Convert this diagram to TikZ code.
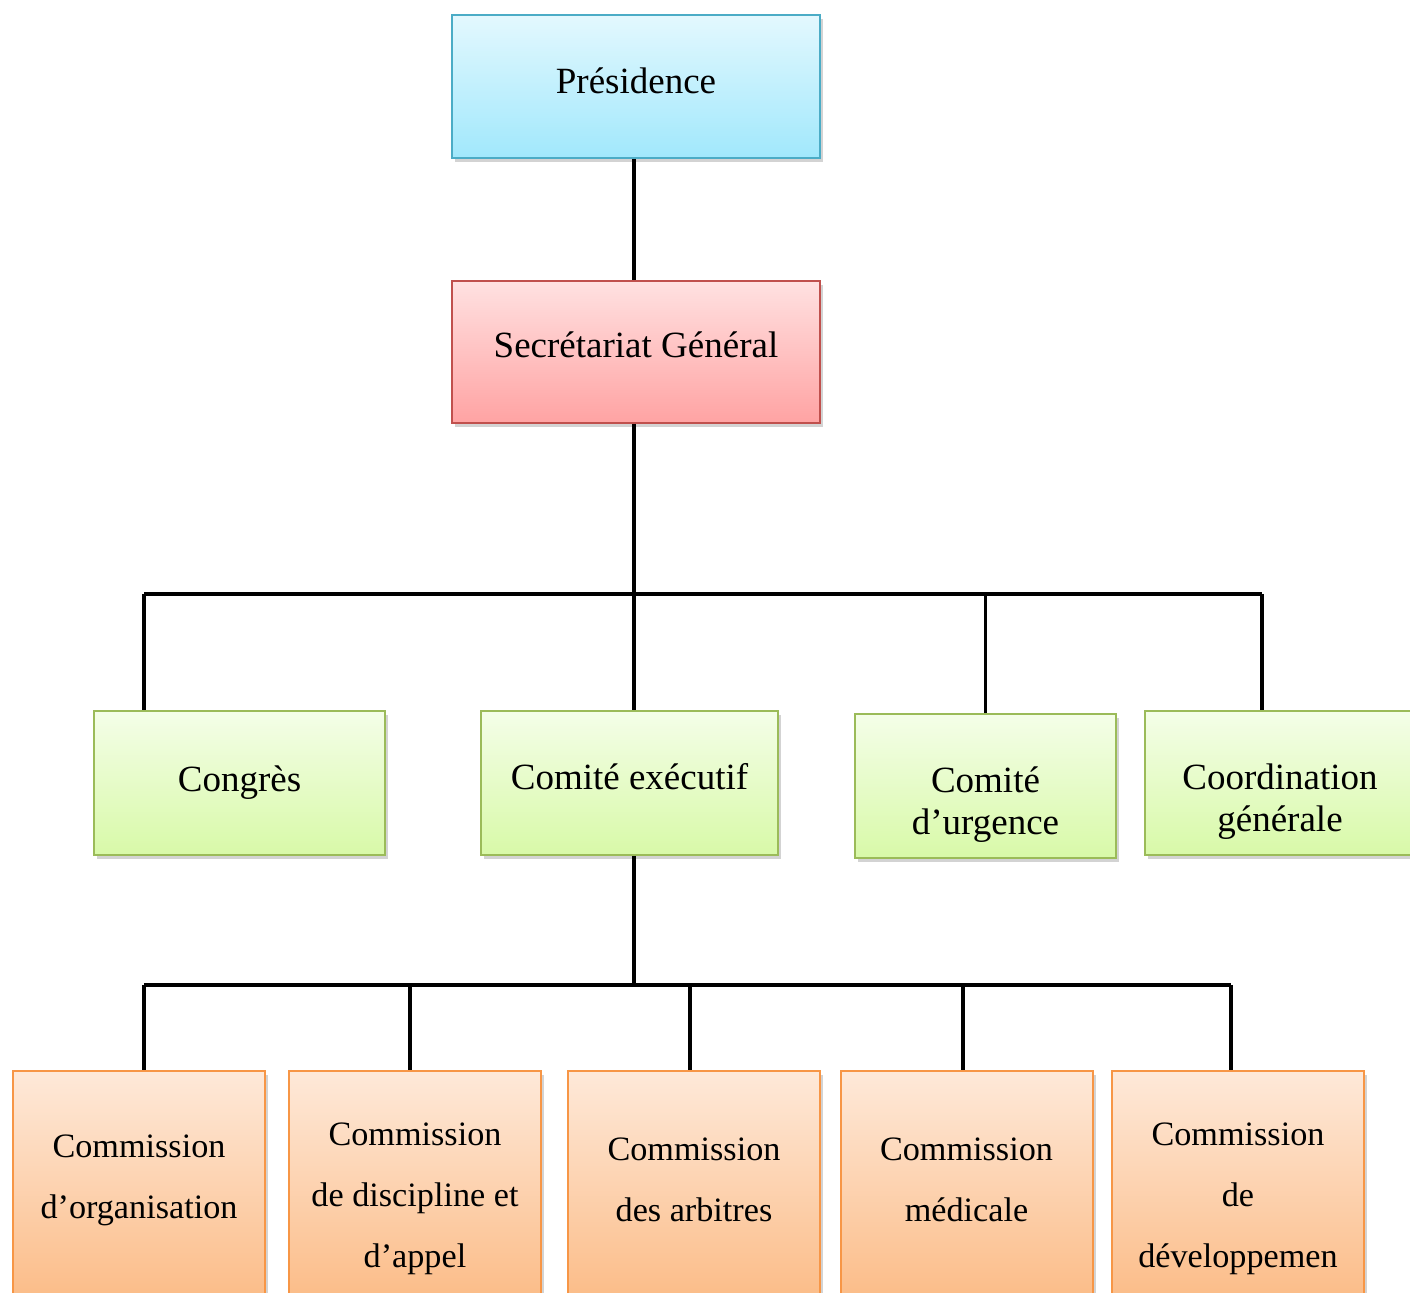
\documentclass[tikz,border=0pt]{standalone}
\usepackage{fontspec}
\setmainfont{Liberation Serif}
\usetikzlibrary{positioning,calc,shadows}
\definecolor{presline}{HTML}{4BACC6}\definecolor{prestop}{HTML}{E3F8FE}\definecolor{presbot}{HTML}{A1E8FC}
\definecolor{sgline}{HTML}{C0504D}\definecolor{sgtop}{HTML}{FFE1E1}\definecolor{sgbot}{HTML}{FFA3A3}
\definecolor{grline}{HTML}{9BBB59}\definecolor{grtop}{HTML}{F4FEE8}\definecolor{grbot}{HTML}{D8F9A8}
\definecolor{orline}{HTML}{F79646}\definecolor{ortop}{HTML}{FEE9D9}\definecolor{orbot}{HTML}{FBB880}
\tikzset{box/.style={draw,line width=1pt,inner sep=0pt,drop shadow={opacity=0.35,shadow xshift=1.5pt,shadow yshift=-2pt}},
  presbox/.style={box,draw=presline,top color=prestop,bottom color=presbot,minimum width=184pt,minimum height=71.5pt},
  sgbox/.style={box,draw=sgline,top color=sgtop,bottom color=sgbot,minimum width=184pt,minimum height=71pt},
  grbox/.style={box,draw=grline,top color=grtop,bottom color=grbot,minimum height=72pt},
  orbox/.style={box,draw=orline,top color=ortop,bottom color=orbot,minimum width=126pt,minimum height=125pt},
  bigtxt/.style={font=\fontsize{18.5}{21}\selectfont,align=center,inner sep=0pt},
  smalltxt/.style={font=\fontsize{17.1}{30.5}\selectfont,align=center,inner sep=0pt},
  link/.style={line width=1.8pt}}
\begin{document}
\begin{tikzpicture}[x=0.5pt,y=-0.5pt]
  \useasboundingbox (0,0) rectangle (1410,1293);
  \clip (0,0) rectangle (1410,1293);

  % top of the chart
  \node (pres) [presbox] at (636,86.5) {};
  \node (sg) [sgbox] at (636,352) {};
  \node (pres-t) [bigtxt] at ($(pres)+(0,-6)$) {Présidence};
  \node (sg-t) [bigtxt] at ($(sg)+(0,-7)$) {Secrétariat Général};

  % second level
  \node (cong) [grbox,minimum width=145.5pt,bigtxt] at (239.5,783) {Congrès};
  \node (exec) [grbox,minimum width=148.5pt] at (629.5,783) {};
  \node (urg) [grbox,minimum width=130.5pt] at (985.5,786.5) {};
  \node (coord) [grbox,minimum width=135pt] at (1280,783) {};
  \node (exec-t) [bigtxt] at ($(exec)+(0,-6)$) {Comité exécutif};
  \node (urg-t) [bigtxt] at ($(urg)+(0,18)$) {Comité\\d’urgence};
  \node (coord-t) [bigtxt] at ($(coord)+(0,19)$) {Coordination\\générale};

  % commissions
  \foreach \n/\x in {org/139, disc/415, arb/694, med/966.5, dev/1238}
    {\node (\n) [orbox] at (\x,1196) {};}
  \foreach \n/\dy/\t in {org/-16/{Commission\\d’organisation}, disc/3/{Commission\\de discipline et\\d’appel},
      arb/-16/{Commission\\des arbitres}, med/-16/{Commission\\médicale}, dev/3/{Commission\\de\\développemen}}
    {\node (\n-t) [smalltxt] at ($(\n)+(0,\dy)$) {\t};}

  % connectors
  \coordinate (hl) at (144,594);
  \coordinate (hr) at (1262,594);
  \coordinate (hx) at (634,594);
  \coordinate (gx) at (634,985);

  \draw[link] (pres.south -| hx) -- (sg.north -| hx);
  \draw[link] (sg.south -| hx) -- (hx);
  \draw[link] (hl) -- (hr);
  \draw[link] (hl) -- (hl |- cong.north);
  \draw[link] (hx) -- (exec.north -| hx);
  \draw[link] (urg.north |- hl) -- (urg.north);
  \draw[link] (hr) -- (hr |- coord.north);

  \draw[link] (exec.south -| gx) -- (gx);
  \foreach \n/\x in {org/144, disc/410, arb/690, med/963, dev/1231}
    {\coordinate (g-\n) at (\x,985);
     \draw[link] (g-\n) -- (g-\n |- \n.north);}
  \draw[link] (g-org) -- (g-dev);
\end{tikzpicture}
\end{document}
